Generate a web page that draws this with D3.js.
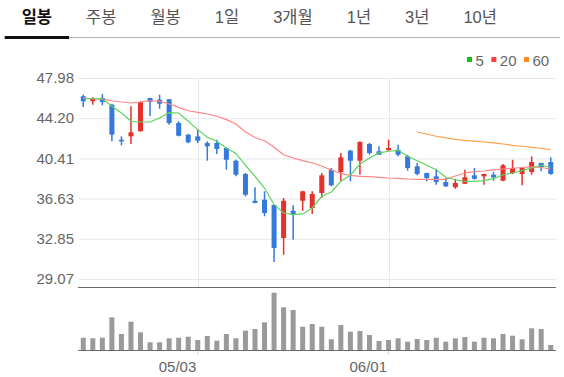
<!DOCTYPE html>
<html>
<head>
<meta charset="utf-8">
<script src="https://cdn.jsdelivr.net/npm/d3@7"></script>
<style>
    html, body { margin: 0; padding: 0; background: #fff; }
    svg { display: block; }
</style>
</head>
<body>
<candle-chart></candle-chart>
<script>
const tabs = ['일봉', '주봉', '월봉', '1일', '3개월', '1년', '3년', '10년'];
const legendItems = ['5', '20', '60'];

const dates = ['04/15', '04/16', '04/19', '04/20', '04/21', '04/22', '04/23', '04/26', '04/27', '04/28',
    '04/29', '04/30', '05/03', '05/04', '05/05', '05/06', '05/07', '05/10', '05/11', '05/12',
    '05/13', '05/14', '05/17', '05/18', '05/19', '05/20', '05/21', '05/24', '05/25', '05/26',
    '05/27', '05/28', '06/01', '06/02', '06/03', '06/04', '06/07', '06/08', '06/09', '06/10',
    '06/11', '06/14', '06/15', '06/16', '06/17', '06/18', '06/21', '06/22', '06/23', '06/24'];

const open = [46.26, 45.79, 46.10, 45.47, 42.17, 42.49, 42.97, 46.10, 45.94, 45.98,
    43.75, 42.65, 42.49, 41.86, 41.86, 41.39, 40.20, 38.95, 36.43, 36.53,
    36.04, 32.92, 35.49, 36.43, 35.75, 37.16, 39.35, 39.13, 41.14, 40.20,
    41.77, 41.08, 41.18, 41.23, 40.61, 39.67, 39.04, 38.73, 38.19, 37.70,
    38.03, 38.82, 38.73, 38.88, 38.32, 39.04, 38.95, 39.13, 39.98, 40.08];
const high = [46.41, 46.16, 46.47, 45.53, 42.49, 45.32, 45.79, 46.12, 46.41, 46.00,
    43.91, 42.71, 43.12, 42.02, 42.17, 41.46, 40.29, 39.04, 37.70, 37.32,
    36.06, 36.69, 36.00, 37.37, 37.32, 39.04, 39.51, 40.92, 41.23, 42.02,
    41.86, 41.55, 42.17, 41.70, 40.76, 39.98, 39.06, 39.45, 38.57, 38.50,
    39.35, 39.51, 38.97, 39.13, 39.89, 40.29, 39.53, 40.61, 40.00, 40.52];
const low = [45.25, 45.47, 45.41, 42.02, 41.65, 41.77, 42.93, 44.38, 45.09, 43.59,
    42.49, 41.84, 41.86, 40.20, 40.83, 39.35, 38.73, 36.85, 36.19, 34.97,
    30.67, 31.35, 32.76, 35.49, 35.18, 36.69, 37.79, 38.32, 38.26, 38.88,
    40.76, 40.74, 41.16, 40.61, 39.26, 38.82, 38.26, 37.94, 37.72, 37.56,
    38.01, 38.41, 37.94, 38.32, 38.26, 38.95, 37.88, 38.88, 39.20, 38.88];
const close = [45.79, 46.03, 45.72, 42.65, 42.02, 42.87, 45.69, 45.72, 45.56, 43.75,
    42.55, 41.93, 42.08, 41.55, 41.30, 40.29, 38.88, 37.00, 36.22, 35.28,
    31.98, 36.43, 35.18, 37.32, 37.07, 38.82, 37.88, 40.52, 40.20, 41.96,
    40.92, 40.76, 41.39, 40.76, 39.51, 38.95, 38.57, 38.19, 37.79, 38.10,
    38.64, 38.50, 38.95, 38.64, 39.77, 39.51, 39.51, 40.08, 39.61, 38.95];
const volume = [123, 117, 123, 327, 160, 283, 177, 77, 77, 117,
    123, 133, 100, 140, 93, 160, 117, 193, 210, 277,
    573, 427, 400, 233, 260, 233, 107, 250, 183, 190,
    150, 90, 100, 117, 83, 110, 100, 123, 83, 117,
    130, 83, 123, 117, 160, 143, 107, 217, 210, 50];

const ma5 = [46.03, 46.03, 46.03, 45.32, 44.69, 43.91, 43.84, 43.84, 44.22, 44.72,
    44.69, 43.91, 43.12, 42.40, 42.03, 41.40, 40.88, 39.77, 38.73, 37.63,
    36.06, 35.28, 35.12, 35.19, 35.75, 36.85, 37.26, 38.26, 38.83, 39.89,
    40.45, 40.93, 41.09, 41.18, 40.61, 40.20, 39.77, 39.35, 38.64, 38.41,
    38.26, 38.26, 38.32, 38.51, 38.88, 39.04, 39.26, 39.51, 39.77, 39.58];
const ma20 = [46.10, 46.03, 46.00, 45.84, 45.72, 45.63, 45.72, 45.84, 45.79, 45.53,
    45.22, 44.90, 44.75, 44.59, 44.38, 44.06, 43.65, 42.90, 42.38, 42.08,
    41.46, 40.76, 40.45, 40.20, 39.98, 39.70, 39.33, 39.00, 38.81, 38.73,
    38.70, 38.64, 38.57, 38.54, 38.48, 38.45, 38.45, 38.45, 38.45, 38.76,
    39.04, 39.17, 39.23, 39.33, 39.42, 39.49, 39.56, 39.61, 39.56, 39.42];
const ma60 = [null, null, null, null, null, null, null, null, null, null,
    null, null, null, null, null, null, null, null, null, null,
    null, null, null, null, null, null, null, null, null, null,
    null, null, null, null, null, 42.90, 42.71, 42.50, 42.34, 42.20,
    42.12, 42.05, 41.96, 41.87, 41.77, 41.65, 41.56, 41.46, 41.37, 41.24];

const yTicks = [29.07, 32.85, 36.63, 40.41, 44.20, 47.98];
const xTickLabels = ['05/03', '06/01'];

const UP = '#e4312b';
const DOWN = '#3479db';
const NUM_FONT = '"Liberation Sans", Arial, sans-serif';

class CandleChart extends HTMLElement {
    constructor() {
        super();

        this.width = 564;
        this.height = 377;
        this.plotLeft = 78.5;
        this.plotRight = 555.5;
        this.gridLeft = 79;
        this.gridRight = 556;
        this.priceTop = 78;
        this.priceBottom = 279;
        this.panelLine = 287;
        this.volumeTop = 290;
        this.volumeBottom = 350;

        this.svg = d3.select(this)
            .append('svg')
            .attr('width', this.width)
            .attr('height', this.height);
    }
    //----------------------------------------------------------------------------
    connectedCallback() {
        this.data = dates.map((date, i) => ({
            date,
            open: open[i],
            high: high[i],
            low: low[i],
            close: close[i],
            volume: volume[i]
        }));

        this.#scaling();
        this.#drawTabs();
        this.#drawLegend();
        this.#drawAxis();
        this.#drawCandles();
        this.#drawLines();
        this.#drawVolume();
    }
    //----------------------------------------------------------------------------
    #scaling() {
        this.xScale = d3.scaleBand()
            .domain(dates)
            .range([this.plotLeft, this.plotRight])
            .padding(0);

        this.yScale = d3.scaleLinear()
            .domain([yTicks[0], yTicks[yTicks.length - 1]])
            .range([this.priceBottom, this.priceTop]);

        this.vScale = d3.scaleLinear()
            .domain([0, 600])
            .range([this.volumeBottom, this.volumeTop]);

        this.cx = d => this.xScale(d) + this.xScale.bandwidth() / 2;
        this.barWidth = 5;
    }
    //----------------------------------------------------------------------------
    #drawTabs() {
        const g = this.svg.append('g');
        let x = 21.7;

        tabs.forEach((label, i) => {
            const t = g.append('text')
                .attr('x', x)
                .attr('y', 23)
                .attr('font-family', '"Liberation Sans", "Noto Sans CJK KR", sans-serif')
                .attr('font-size', 16.5)
                .attr('font-weight', i === 0 ? 700 : 400)
                .attr('fill', i === 0 ? '#111' : '#555')
                .text(label);
            const w = t.node().getComputedTextLength();

            if (i === 0) {
                g.append('rect')
                    .attr('x', x - 17)
                    .attr('y', 36)
                    .attr('width', w + 34)
                    .attr('height', 3)
                    .attr('fill', '#111');
                this.tabEnd = x + w + 17;
            }
            x += w + 34;
        });

        g.append('line')
            .attr('x1', this.tabEnd)
            .attr('x2', 560)
            .attr('y1', 37.5)
            .attr('y2', 37.5)
            .attr('stroke', '#b5b5b5')
            .attr('stroke-width', 1);
    }
    //----------------------------------------------------------------------------
    #drawLegend() {
        const colors = ['#12c212', '#ff3d3d', '#ff8a1f'];
        const g = this.svg.append('g');
        let x = 467;

        legendItems.forEach((label, i) => {
            g.append('rect')
                .attr('x', x)
                .attr('y', 57)
                .attr('width', 5)
                .attr('height', 5)
                .attr('fill', colors[i]);
            const t = g.append('text')
                .attr('x', x + 8.5)
                .attr('y', 65.5)
                .attr('font-family', NUM_FONT)
                .attr('font-size', 15)
                .attr('fill', '#666')
                .text(label);
            x += 8.5 + t.node().getComputedTextLength() + 7.5;
        });
    }
    //----------------------------------------------------------------------------
    #drawAxis() {
        // Y axis with grid lines
        const yAxis = d3.axisLeft(this.yScale)
            .tickValues(yTicks)
            .tickFormat(d3.format('.2f'))
            .tickSize(-(this.gridRight - this.gridLeft))
            .tickPadding(5);

        const gy = this.svg.append('g')
            .attr('transform', `translate(${this.gridLeft}, 0)`)
            .call(yAxis);
        gy.select('.domain').remove();
        gy.selectAll('.tick line').attr('stroke', '#e5e8ed');
        gy.selectAll('.tick text')
            .attr('font-family', NUM_FONT)
            .attr('font-size', 15)
            .attr('fill', '#666');

        // vertical date grid lines
        this.svg.append('g')
            .selectAll('line')
            .data(xTickLabels)
            .join('line')
            .attr('x1', d => Math.round(this.cx(d)) + 0.5)
            .attr('x2', d => Math.round(this.cx(d)) + 0.5)
            .attr('y1', this.priceTop)
            .attr('y2', this.panelLine)
            .attr('stroke', '#e5e8ed');

        // panel separators
        [this.panelLine, this.volumeBottom].forEach(y => {
            this.svg.append('line')
                .attr('x1', this.gridLeft - 1)
                .attr('x2', this.gridRight)
                .attr('y1', y + 0.5)
                .attr('y2', y + 0.5)
                .attr('stroke', '#6a6a6a');
        });

        // X axis
        const xAxis = d3.axisBottom(this.xScale)
            .tickValues(xTickLabels)
            .tickSize(4)
            .tickPadding(6);

        const gx = this.svg.append('g')
            .attr('transform', `translate(0, ${this.volumeBottom + 1})`)
            .call(xAxis);
        gx.select('.domain').remove();
        gx.selectAll('.tick line').attr('stroke', '#d5d8dd');
        gx.selectAll('.tick text')
            .attr('text-anchor', 'end')
            .attr('x', -1.5)
            .attr('font-family', NUM_FONT)
            .attr('font-size', 15)
            .attr('fill', '#666');
    }
    //----------------------------------------------------------------------------
    #drawCandles() {
        const g = this.svg.append('g');
        const color = d => d.close >= d.open ? UP : DOWN;

        g.selectAll('.wick')
            .data(this.data)
            .join('line')
            .attr('class', 'wick')
            .attr('x1', d => this.cx(d.date))
            .attr('x2', d => this.cx(d.date))
            .attr('y1', d => this.yScale(d.high))
            .attr('y2', d => this.yScale(d.low))
            .attr('stroke', color)
            .attr('stroke-width', 1.5);

        g.selectAll('.body')
            .data(this.data)
            .join('rect')
            .attr('class', 'body')
            .attr('x', d => this.cx(d.date) - this.barWidth / 2)
            .attr('y', d => this.yScale(Math.max(d.open, d.close)))
            .attr('width', this.barWidth)
            .attr('height', d => Math.max(1.5, Math.abs(this.yScale(d.open) - this.yScale(d.close))))
            .attr('fill', color);
    }
    //----------------------------------------------------------------------------
    #drawLines() {
        const series = [
            { values: ma20, color: '#ff8585' },
            { values: ma5, color: '#5fd35f' },
            { values: ma60, color: '#ffa04d' }
        ];

        const line = d3.line()
            .defined(d => d.v != null)
            .x(d => this.cx(d.date))
            .y(d => this.yScale(d.v));

        series.forEach(s => {
            this.svg.append('path')
                .attr('fill', 'none')
                .attr('stroke', s.color)
                .attr('stroke-width', 1.2)
                .attr('d', line(dates.map((date, i) => ({ date, v: s.values[i] }))));
        });
    }
    //----------------------------------------------------------------------------
    #drawVolume() {
        this.svg.append('g')
            .selectAll('rect')
            .data(this.data)
            .join('rect')
            .attr('x', d => this.cx(d.date) - this.barWidth / 2)
            .attr('y', d => this.vScale(d.volume))
            .attr('width', this.barWidth)
            .attr('height', d => this.vScale(0) - this.vScale(d.volume))
            .attr('fill', '#9a9a9a');
    }
    //----------------------------------------------------------------------------
    static define(tag = 'candle-chart') {
        customElements.define(tag, this);
    }
}

CandleChart.define();
</script>
</body>
</html>
